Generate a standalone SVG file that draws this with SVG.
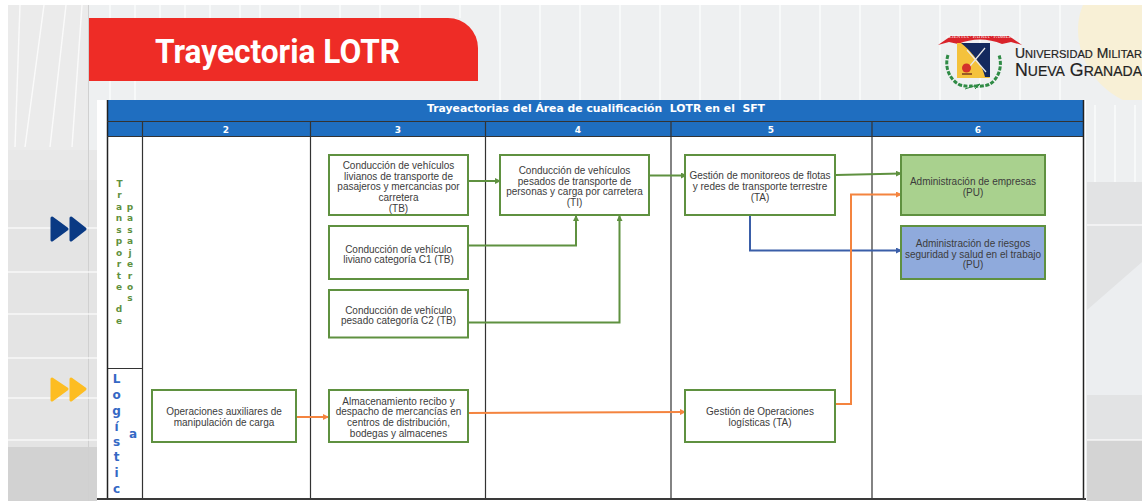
<svg xmlns="http://www.w3.org/2000/svg" width="1142" height="501" viewBox="0 0 1142 501">
<style>
.bx{fill:#fff;stroke:#5f9140;stroke-width:2}
.t{font-family:"Liberation Sans",Arial,sans-serif;font-size:10px;fill:#3c3c3c;text-anchor:middle}
.h{font-family:"DejaVu Sans",sans-serif;font-weight:700;font-size:9px;fill:#fff;text-anchor:middle}
.g{font-family:"DejaVu Sans",sans-serif;font-weight:700;font-size:9px;fill:#5f9140;text-anchor:middle}
.b{font-family:"DejaVu Sans",sans-serif;font-weight:700;font-size:12px;fill:#3568c4;text-anchor:middle}
.gl{stroke:#333;stroke-width:1.2;fill:none}
.c{fill:none;stroke-width:2}
.cg{stroke:#5f9140}.co{stroke:#f4843f}.cb{stroke:#3a5ea8}
.st{stroke:#fff;stroke-width:1.5;opacity:.75}
</style>
<defs>
<marker id="ag" markerWidth="6" markerHeight="6" refX="5" refY="3" orient="auto" markerUnits="userSpaceOnUse"><path d="M0 0L6 3L0 6Z" fill="#5f9140"/></marker>
<marker id="ao" markerWidth="6" markerHeight="6" refX="5" refY="3" orient="auto" markerUnits="userSpaceOnUse"><path d="M0 0L6 3L0 6Z" fill="#f4843f"/></marker>
<marker id="ab" markerWidth="6" markerHeight="6" refX="5" refY="3" orient="auto" markerUnits="userSpaceOnUse"><path d="M0 0L6 3L0 6Z" fill="#3a5ea8"/></marker>
</defs>
<rect width="1142" height="501" fill="#fff"/>
<g id="background">
<rect x="8" y="5" width="1134" height="496" fill="#eef0f1"/>
<rect x="8" y="5" width="80" height="145" fill="#ebebeb"/>
<rect x="8" y="150" width="89" height="30" fill="#e8e8e8"/>
<rect x="8" y="180" width="89" height="267" fill="#e4e4e4"/>
<rect x="8" y="447" width="89" height="54" fill="#d2d2d2"/>
<rect x="88" y="5" width="1" height="496" fill="#d0d0d0"/>
<path class="st" d="M20 5L15 147M44 5L25 147M66 5L50 147M82 5L72 147M8 228H97M8 272H97M8 314H97M8 358H97M8 398H97M8 440H97M110 5V100M135 5V100M160 5V18M185 5V18M210 5V18M240 5V18M260 5V18M300 5V18M340 5V18M380 5V18M420 5V18M460 5V18M500 5V100M540 5V100M580 5V100M620 5V100M660 5V100M700 5V100M740 5V100M780 5V100M820 5V100M860 5V100M900 5V100M940 5V100M980 5V100M1020 5V100M1060 5V100"/>
<path d="M1142 5V106C1105 100 1078 65 1078 30C1078 20 1080 12 1083 5Z" fill="#f8f0d6"/>
<rect x="1087" y="182" width="55" height="319" fill="#e2e3e4"/>
<rect x="1087" y="100" width="55" height="82" fill="#eef0f1"/>
<path d="M1087 310L1142 262V395H1087Z" fill="#eceef0"/>
<rect x="1087" y="440" width="55" height="61" fill="#d4d4d4"/>
<path class="st" d="M1095 105V182M1115 105V182M1135 105V182M1087 225H1142M1087 440H1142"/>
</g>
<g id="banner">
<path d="M89 18H448A30 30 0 0 1 478 48V81H89Z" fill="#ee2c26"/>
<text x="155" y="63" font-family="Roboto,'Liberation Sans',sans-serif" font-weight="700" font-size="34" fill="#fff" textLength="245" lengthAdjust="spacingAndGlyphs">Trayectoria LOTR</text>
</g>
<g id="logo">
<path d="M938 47L951 38L1009 38L1009 38L1022 47L1011 44L1002 46C988 40 972 40 958 46L949 44Z" fill="#d9232a" transform="translate(0,-2)"/>
<text x="980" y="38" font-family="Liberation Serif,serif" font-size="5" fill="#fff" text-anchor="middle">SCIENTIA · PATRIA · FAMILIA</text>
<path d="M957 43H990V77C990 78 989 78 988 78H957Z" fill="#f4c23c"/>
<path d="M961 43H990V77H985C983 65 970 50 961 43Z" fill="#13295e"/>
<path d="M967 50L986 72M985 48L970 66" stroke="#e8e8e8" stroke-width="1.2" fill="none"/>
<circle cx="966.500" cy="68" r="4.500" fill="#d3312b"/>
<path d="M962 74H972" stroke="#7a3b1c" stroke-width="1.500"/>
<path d="M948 55C944 68 950 80 960 85C967 87 970 86 972 86C975 86 985 87 990 84C998 79 1003 67 999 55" fill="none" stroke="#2f8b45" stroke-width="3" stroke-dasharray="4 1.500"/>
<path d="M965 89L980 84L975 89" fill="none" stroke="#2f8b45" stroke-width="1"/>
<text x="1015" y="58" font-family="Liberation Sans,sans-serif" font-weight="400" font-size="14.500" fill="#222" stroke="#222" stroke-width=".2" textLength="127" lengthAdjust="spacingAndGlyphs">U<tspan font-size="11.500">NIVERSIDAD</tspan> M<tspan font-size="11.500">ILITAR</tspan></text>
<text x="1015" y="76" font-family="Liberation Sans,sans-serif" font-weight="400" font-size="19" fill="#222" stroke="#222" stroke-width=".2" textLength="127" lengthAdjust="spacingAndGlyphs">N<tspan font-size="15">UEVA</tspan> G<tspan font-size="15">RANADA</tspan></text>
</g>
<g id="table">
<rect x="97" y="100" width="989" height="401" fill="#fff"/>
<rect x="107" y="100" width="976" height="36" fill="#1f6ec0"/>
<path d="M107.500 100V498M1083.500 100V498" stroke="#222" stroke-width="1.500"/>
<path class="gl" d="M107 121.500H1083M107 136.500H1083M142.500 122V498M310.500 122V498M485.500 122V498M671 122V498M872 122V498M108 368.500H142"/>
<rect x="97" y="498" width="989" height="2" fill="#3a3a3a"/>
<text x="596" y="112" class="h" font-size="11" style="font-size:11px" xml:space="preserve" textLength="338" lengthAdjust="spacingAndGlyphs">Trayeactorias del Área de cualificación  LOTR en el  SFT</text>
<text x="226" y="133" class="h">2</text><text x="398" y="133" class="h">3</text><text x="578" y="133" class="h">4</text><text x="771" y="133" class="h">5</text><text x="978" y="133" class="h">6</text>
</g>
<g id="row-labels">
<text class="g" x="119.500" y="187">T</text><text class="g" x="119.500" y="198">r</text><text class="g" x="119" y="210">a</text><text class="g" x="119" y="221">n</text><text class="g" x="119" y="233">s</text><text class="g" x="119" y="244">p</text><text class="g" x="119" y="256">o</text><text class="g" x="119" y="267">r</text><text class="g" x="119" y="279">t</text><text class="g" x="119" y="290">e</text><text class="g" x="119" y="312">d</text><text class="g" x="119" y="324">e</text>
<text class="g" x="130" y="210">p</text><text class="g" x="130" y="221">a</text><text class="g" x="130" y="233">s</text><text class="g" x="130" y="244">a</text><text class="g" x="130" y="256">j</text><text class="g" x="130" y="267">e</text><text class="g" x="130" y="279">r</text><text class="g" x="130" y="290">o</text><text class="g" x="130" y="301">s</text>
<text class="b" x="116.500" y="383">L</text><text class="b" x="116.500" y="399">o</text><text class="b" x="116.500" y="415">g</text><text class="b" x="116.500" y="431">í</text><text class="b" x="116.500" y="446">s</text><text class="b" x="116.500" y="461">t</text><text class="b" x="116.500" y="477">i</text><text class="b" x="116.500" y="493">c</text><text class="b" x="133" y="438">a</text>
</g>
<g id="connectors">
<path class="c cg" marker-end="url(#ag)" d="M468 181H500"/>
<path class="c cg" marker-end="url(#ag)" d="M468 245.500H576V216"/>
<path class="c cg" marker-end="url(#ag)" d="M468 322.500H619.500V216"/>
<path class="c cg" marker-end="url(#ag)" d="M649 175.500H686"/>
<path class="c cg" marker-end="url(#ag)" d="M836 175L901 173.500"/>
<path class="c cb" marker-end="url(#ab)" d="M750 216V250.500H901"/>
<path class="c co" marker-end="url(#ao)" d="M835 404H851V194.500H901"/>
<path class="c co" marker-end="url(#ao)" d="M294 417H328"/>
<path class="c co" marker-end="url(#ao)" d="M468 413L685 412"/>
</g>
<g id="n1"><rect class="bx" x="329" y="155" width="139" height="60"/><text class="t"><tspan x="398.500" y="169">Conducción de vehículos</tspan><tspan x="398.500" y="179.500">livianos de transporte de</tspan><tspan x="398.500" y="190">pasajeros y mercancias por</tspan><tspan x="398.500" y="201">carretera</tspan><tspan x="398.500" y="211.500">(TB)</tspan></text></g>
<g id="n2"><rect class="bx" x="329" y="226" width="139" height="53"/><text class="t"><tspan x="398.500" y="252.500">Conducción de vehículo</tspan><tspan x="398.500" y="263">liviano categoría C1 (TB)</tspan></text></g>
<g id="n3"><rect class="bx" x="329" y="290" width="139" height="47.500"/><text class="t"><tspan x="398.500" y="313.500">Conducción de vehículo</tspan><tspan x="398.500" y="324">pesado categoría C2 (TB)</tspan></text></g>
<g id="n4"><rect class="bx" x="500" y="155" width="149" height="60"/><text class="t"><tspan x="574.500" y="174">Conducción de vehículos</tspan><tspan x="574.500" y="184.500">pesados de transporte de</tspan><tspan x="574.500" y="195">personas y carga por carretera</tspan><tspan x="574.500" y="206">(TI)</tspan></text></g>
<g id="n5"><rect class="bx" x="685" y="155" width="150" height="60"/><text class="t"><tspan x="760" y="179">Gestión de monitoreos de flotas</tspan><tspan x="760" y="190">y redes de transporte terrestre</tspan><tspan x="760" y="201">(TA)</tspan></text></g>
<g id="n6"><rect class="bx" x="901" y="155" width="144" height="60" style="fill:#a9d18e"/><text class="t"><tspan x="973" y="185">Administración de empresas</tspan><tspan x="973" y="196">(PU)</tspan></text></g>
<g id="n7"><rect class="bx" x="901" y="226" width="144" height="53" style="fill:#8faadc"/><text class="t"><tspan x="973" y="247">Administración de riesgos</tspan><tspan x="973" y="257.500">seguridad y salud en el trabajo</tspan><tspan x="973" y="268">(PU)</tspan></text></g>
<g id="n8"><rect class="bx" x="152" y="390" width="144" height="52"/><text class="t"><tspan x="224" y="415">Operaciones auxiliares de</tspan><tspan x="224" y="425.500">manipulación de carga</tspan></text></g>
<g id="n9"><rect class="bx" x="329" y="390" width="139" height="52"/><text class="t"><tspan x="398.500" y="405">Almacenamiento recibo y</tspan><tspan x="398.500" y="415">despacho de mercancías en</tspan><tspan x="398.500" y="426">centros de distribución,</tspan><tspan x="398.500" y="436.500">bodegas y almacenes</tspan></text></g>
<g id="n10"><rect class="bx" x="685" y="390" width="150" height="52"/><text class="t"><tspan x="760" y="415">Gestión de Operaciones</tspan><tspan x="760" y="426">logísticas (TA)</tspan></text></g>
<g id="marker-blue" fill="#0a3a84" stroke="#0a3a84" stroke-width="3" stroke-linejoin="round"><path d="M52 218L67 229L52 240Z"/><path d="M71 218L85 229L71 240Z"/></g>
<g id="marker-yellow" fill="#fdbd22" stroke="#fdbd22" stroke-width="3" stroke-linejoin="round"><path d="M52 379L67 389L52 400Z"/><path d="M71 379L85 389L71 400Z"/></g>
</svg>
